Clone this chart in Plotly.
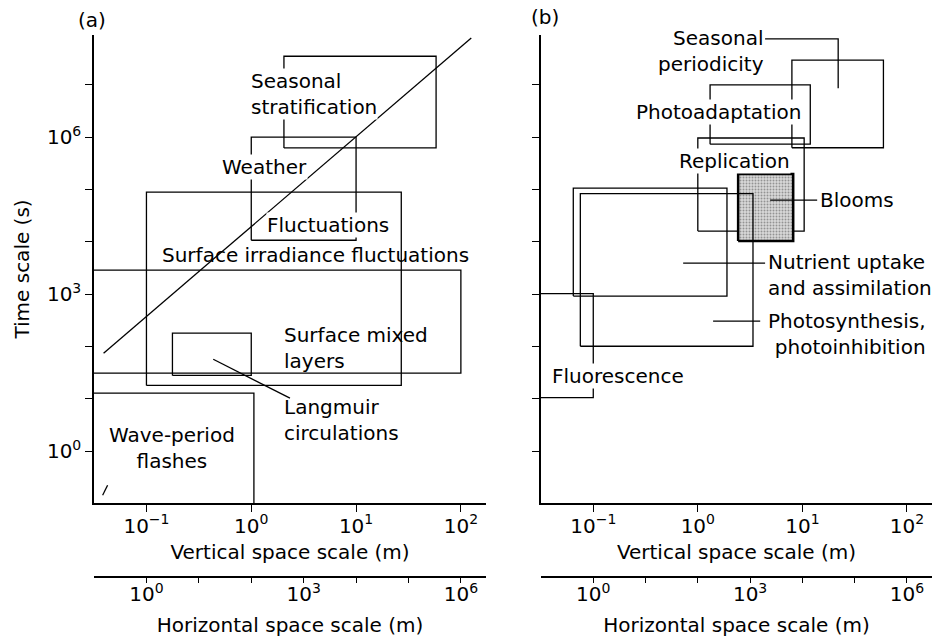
import plotly.graph_objects as go
import math

# ---------------- data (space in m, time in s) ----------------
# Panel (a): physical processes - rectangles [x_left, x_right, y_bottom, y_top]
A_NAMES = ["Seasonal stratification", "Weather fluctuations", "Surface irradiance fluctuations",
           "Surface mixed layers", "Langmuir circulations", "Wave-period flashes"]
A_X0 = [2.05, 1.0, 0.1, 0.03, 0.177, 0.03]
A_X1 = [58, 10, 27, 100, 1.0, 1.06]
A_Y0 = [6.2e5, 1.07e4, 18, 31, 28, 0.1]
A_Y1 = [3.5e7, 1.0e6, 8.9e4, 2870, 180, 12.8]

# diagonal line and small marks in panel (a)
DIAG_X = [0.039, 125.6]
DIAG_Y = [74.5, 7.8e7]
LANG_LEAD_X = [0.434, 2.34]
LANG_LEAD_Y = [57, 10.3]
SLASH_X = [0.0382, 0.0426]
SLASH_Y = [0.144, 0.224]

# Panel (a) labels: text, x, y (data units)
A_LAB_TEXT = ["Seasonal<br>stratification", "Weather", "Fluctuations",
              "Surface irradiance fluctuations", "Surface mixed<br>layers",
              "Langmuir<br>circulations", "Wave-period<br>flashes"]
A_LAB_X = [0.975, 1.352, 5.37, 4.13, 2.0, 2.0, 0.177]
A_LAB_Y = [6.78e6, 2.67e5, 2.08e4, 5.56e3, 94.8, 3.91, 1.166]
A_LAB_ANCHOR = ["left", "center", "center", "center", "left", "left", "center"]

# Panel (b): biological processes
B_NAMES = ["Seasonal periodicity", "Photoadaptation", "Replication", "Blooms",
           "Nutrient uptake and assimilation", "Photosynthesis, photoinhibition", "Fluorescence"]
B_X0 = [7.94, 1.31, 1.0, 2.43, 0.0644, 0.0752, 0.03]
B_X1 = [59.6, 11.9, 10.4, 8.17, 1.90, 3.37, 0.1]
B_Y0 = [6.25e5, 7.3e5, 1.6e4, 1.03e4, 916, 101, 10.5]
B_Y1 = [2.96e7, 9.9e6, 9.6e5, 1.96e5, 1.06e5, 8.3e4, 1020]

# leader lines in panel (b)
SP_LEAD_X = [4.4, 22, 22]
SP_LEAD_Y = [7.5e7, 7.5e7, 8.6e6]
BL_LEAD_X = [4.92, 13.85]
BL_LEAD_Y = [6.25e4, 6.25e4]
NU_LEAD_X = [0.724, 4.4]
NU_LEAD_Y = [3900, 3900]
PH_LEAD_X = [1.40, 3.95]
PH_LEAD_Y = [305, 305]

B_LAB_TEXT = ["Seasonal<br>periodicity", "Photoadaptation", "Replication", "Blooms",
              "Nutrient uptake<br>and assimilation", "Photosynthesis,<br>photoinhibition", "Fluorescence"]
B_LAB_X = [4.4, 1.567, 2.228, 14.5, 4.6, 156, 0.173]
B_LAB_Y = [4.4e7, 3.0e6, 3.48e5, 6.25e4, 2.3e3, 172, 27.1]
B_LAB_ANCHOR = ["right", "center", "center", "left", "left", "right", "center"]

# axis ticks
V_TICKS = [1e-1, 1e0, 1e1, 1e2]
V_TEXT = ["10<sup>\u22121</sup>", "10<sup>0</sup>", "10<sup>1</sup>", "10<sup>2</sup>"]
T_MAJOR = [1e0, 1e3, 1e6]
T_MAJOR_TEXT = ["10<sup>0</sup>", "10<sup>3</sup>", "10<sup>6</sup>"]
T_MINOR = [10.0 ** k for k in range(0, 8)]
H_MAJOR = [1e0, 1e3, 1e6]
H_MAJOR_TEXT = ["10<sup>0</sup>", "10<sup>3</sup>", "10<sup>6</sup>"]
H_MINOR = [10.0 ** k for k in range(0, 7)]

# ---------------- figure ----------------
FONT = "DejaVu Sans"
LW = 1.3
fig = go.Figure()


def rect(x0, x1, y0, y1, xa, ya, **kw):
    fig.add_trace(go.Scatter(x=[x0, x1, x1, x0, x0], y=[y0, y0, y1, y1, y0],
                             mode="lines", line=dict(color="black", width=kw.pop("width", LW)),
                             xaxis=xa, yaxis=ya, showlegend=False, hoverinfo="skip", **kw))


def poly(xs, ys, xa, ya):
    fig.add_trace(go.Scatter(x=xs, y=ys, mode="lines", line=dict(color="black", width=LW),
                             xaxis=xa, yaxis=ya, showlegend=False, hoverinfo="skip"))


for i in range(len(A_NAMES)):
    rect(A_X0[i], A_X1[i], A_Y0[i], A_Y1[i], "x", "y")
poly(DIAG_X, DIAG_Y, "x", "y")
poly(LANG_LEAD_X, LANG_LEAD_Y, "x", "y")
poly(SLASH_X, SLASH_Y, "x", "y")

for i in range(len(B_NAMES)):
    if B_NAMES[i] == "Blooms":
        rect(B_X0[i], B_X1[i], B_Y0[i], B_Y1[i], "x2", "y2", width=2.5,
             fill="toself", fillcolor="#c4c4c4",
             fillpattern=dict(shape=".", size=3, solidity=0.35, fgcolor="#4a4a4a", bgcolor="#dadada"))
    else:
        rect(B_X0[i], B_X1[i], B_Y0[i], B_Y1[i], "x2", "y2")
poly(SP_LEAD_X, SP_LEAD_Y, "x2", "y2")
poly(BL_LEAD_X, BL_LEAD_Y, "x2", "y2")
poly(NU_LEAD_X, NU_LEAD_Y, "x2", "y2")
poly(PH_LEAD_X, PH_LEAD_Y, "x2", "y2")

# dummy traces so the horizontal-scale axes are drawn
fig.add_trace(go.Scatter(x=[H_MAJOR[0], H_MAJOR[-1]], y=[None, None], xaxis="x3", yaxis="y",
                         mode="lines", showlegend=False, hoverinfo="skip"))
fig.add_trace(go.Scatter(x=[H_MAJOR[0], H_MAJOR[-1]], y=[None, None], xaxis="x4", yaxis="y2",
                         mode="lines", showlegend=False, hoverinfo="skip"))

annots = []
bg_labels = {"Seasonal<br>stratification", "Weather", "Fluctuations", "Photoadaptation",
             "Replication", "Fluorescence"}
for txt, x, y, anc, xr, yr in (
        [(A_LAB_TEXT[i], A_LAB_X[i], A_LAB_Y[i], A_LAB_ANCHOR[i], "x", "y") for i in range(len(A_LAB_TEXT))] +
        [(B_LAB_TEXT[i], B_LAB_X[i], B_LAB_Y[i], B_LAB_ANCHOR[i], "x2", "y2") for i in range(len(B_LAB_TEXT))]):
    a = dict(text=txt, x=math.log10(x), y=math.log10(y), xref=xr, yref=yr,
             xanchor=anc, yanchor="middle", align=anc,
             showarrow=False, font=dict(family=FONT, size=20, color="black"), borderpad=0)
    if txt in bg_labels:
        a["bgcolor"] = "white"
    annots.append(a)
annots.append(dict(text="(a)", x=0.037, y=0.9825, xref="paper", yref="paper", showarrow=False,
                   xanchor="center", yanchor="middle", font=dict(family=FONT, size=20, color="black")))
annots.append(dict(text="(b)", x=0.554, y=0.988, xref="paper", yref="paper", showarrow=False,
                   xanchor="center", yanchor="middle", font=dict(family=FONT, size=20, color="black")))

XR = [-1.5, 2.24]
YR = [-0.99, 7.95]
HR = [2 * (XR[0] + 1), 2 * (XR[1] + 1)]
YDOM = [0.1396, 0.9564]
DOM_A = [0.0389, 0.4869]
DOM_B = [0.5497, 0.9966]
tickfont = dict(family=FONT, size=20, color="black")
titlefont = dict(family=FONT, size=20, color="black")
minor_style = dict(ticks="outside", ticklen=7, tickwidth=1.3, tickcolor="black", showgrid=False)

common_x = dict(type="log", range=XR, tickvals=V_TICKS, ticktext=V_TEXT, showgrid=False,
                zeroline=False, showline=True, linecolor="black", linewidth=1.5,
                ticks="outside", ticklen=7, tickwidth=1.3, tickcolor="black", tickfont=tickfont,
                ticklabelstandoff=-3,
                title=dict(text="Vertical space scale (m)", font=titlefont, standoff=8))
common_y = dict(type="log", range=YR, tickvals=T_MAJOR, ticktext=T_MAJOR_TEXT, showgrid=False,
                zeroline=False, showline=True, linecolor="black", linewidth=1.5, ticks="outside",
                ticklen=7, tickwidth=1.3, tickcolor="black", tickfont=tickfont, domain=YDOM,
                minor=dict(tickvals=T_MINOR, **minor_style))
common_h = dict(type="log", range=HR, tickvals=H_MAJOR, ticktext=H_MAJOR_TEXT, showgrid=False,
                zeroline=False, showline=True, linecolor="black", linewidth=1.5,
                ticks="outside", ticklen=6, tickwidth=1.3, tickcolor="black", tickfont=tickfont,
                ticklabelstandoff=-6,
                minor=dict(tickvals=H_MINOR, ticks="outside", ticklen=6, tickwidth=1.3,
                           tickcolor="black", showgrid=False),
                anchor="free", position=0.0113, side="bottom",
                title=dict(text="Horizontal space scale (m)", font=titlefont, standoff=12))

fig.update_layout(
    width=939, height=643,
    margin=dict(l=60, r=4, t=10, b=60),
    paper_bgcolor="white", plot_bgcolor="white",
    xaxis=dict(domain=DOM_A, anchor="y", **common_x),
    yaxis=dict(anchor="x", title=dict(text="Time scale (s)", font=titlefont, standoff=12), **common_y),
    xaxis2=dict(domain=DOM_B, anchor="y2", **common_x),
    yaxis2=dict(anchor="x2", showticklabels=False, **common_y),
    xaxis3=dict(overlaying="x", domain=DOM_A, **common_h),
    xaxis4=dict(overlaying="x2", domain=DOM_B, **common_h),
    annotations=annots,
    showlegend=False,
)

fig.write_html("out.html")
